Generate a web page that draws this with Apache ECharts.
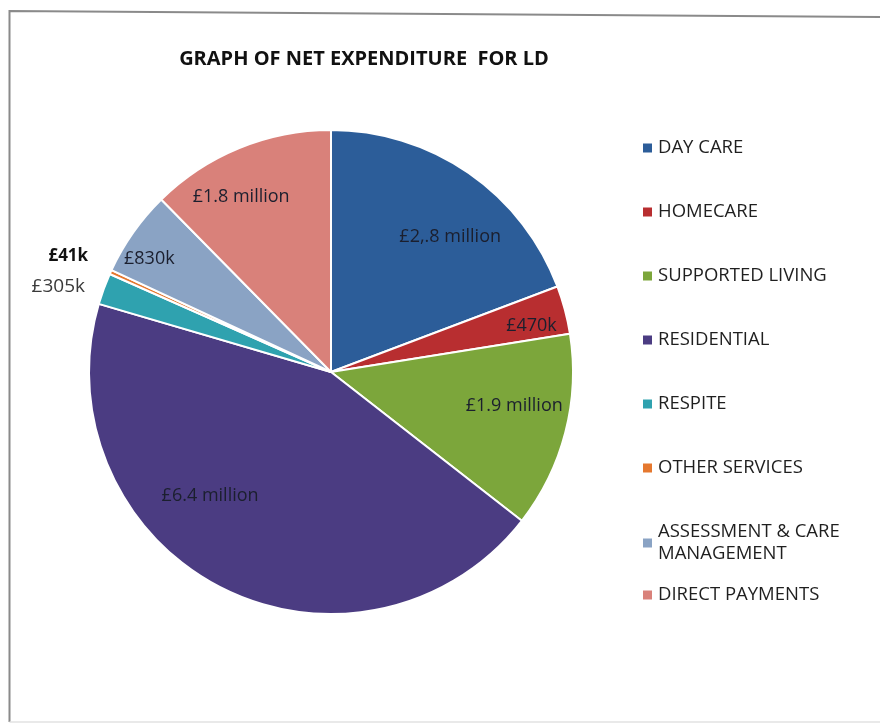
<!DOCTYPE html>
<html>
<head>
<meta charset="utf-8">
<script src="https://cdn.jsdelivr.net/npm/echarts@6/dist/echarts.min.js"></script>
<style>
  html, body { margin: 0; padding: 0; background: #ffffff; }
  #chart { width: 880px; height: 726px; }
</style>
</head>
<body>
<div id="chart"></div>
<script>
// ---- data ----
const categories = ['DAY CARE', 'HOMECARE', 'SUPPORTED LIVING', 'RESIDENTIAL', 'RESPITE', 'OTHER SERVICES', 'ASSESSMENT & CARE MANAGEMENT', 'DIRECT PAYMENTS'];
const values = [2800, 470, 1900, 6400, 305, 41, 830, 1800]; // £ thousands
const valueLabels = ['£2,.8 million', '£470k', '£1.9 million', '£6.4 million', '£305k', '£41k', '£830k', '£1.8 million'];
const titleText = 'GRAPH OF NET EXPENDITURE  FOR LD';

// ---- styling ----
const colors = ['#2c5d99', '#b82e30', '#7ca63b', '#4b3c82', '#2fa2af', '#e5782f', '#8aa3c4', '#d9817a'];
const labelRadialFactor = [0.744, 0.85, 0.77, 0.716, 1.076, 1.112, 0.884, 0.813];
const labelAngleOffset = [6.8, 2.0, -4, 17.1, -1.0, 1.1, -3.3, -4.9];
const outsideIdx = [4, 5];
const CX = 331, CY = 372, R = 242;

const chart = echarts.init(document.getElementById('chart'));

const total = values.reduce((a, b) => a + b, 0);
const midAngles = [];
let acc = 0;
values.forEach(v => { midAngles.push((acc + v / 2) / total * 360); acc += v; });

const pieData = categories.map((name, i) => ({
  name: name,
  value: values[i],
  itemStyle: { color: colors[i] }
}));

const legendText = {
  'ASSESSMENT & CARE MANAGEMENT': 'ASSESSMENT & CARE\nMANAGEMENT'
};

const legendCommon = {
  orient: 'vertical',
  left: 636,
  icon: 'rect',
  itemWidth: 11,
  itemHeight: 11,
  itemGap: 42,
  textStyle: { fontFamily: 'Open Sans', fontSize: 18.5, color: '#1f1f1f', lineHeight: 22 },
  formatter: n => legendText[n] || n,
  selectedMode: false
};

chart.setOption({
  backgroundColor: '#ffffff',
  animation: false,
  title: {
    text: titleText,
    left: 359,
    top: 44,
    textAlign: 'center',
    textStyle: { fontFamily: 'Open Sans', fontWeight: 'bold', fontSize: 20, color: '#111111' }
  },
  legend: [
    Object.assign({ top: 132, data: categories.slice(0, 7) }, legendCommon),
    Object.assign({ top: 579, data: categories.slice(7) }, legendCommon)
  ],
  graphic: [
    {
      type: 'polyline',
      shape: { points: [[9.5, 722], [9.5, 11], [880, 17]] },
      style: { stroke: '#8a8a8a', lineWidth: 2, fill: null },
      silent: true
    },
    {
      type: 'line',
      shape: { x1: 9.5, y1: 722, x2: 880, y2: 722 },
      style: { stroke: '#e2e2e2', lineWidth: 1.5 },
      silent: true
    }
  ],
  series: [{
    type: 'pie',
    center: [CX, CY],
    radius: R,
    startAngle: 90,
    clockwise: true,
    avoidLabelOverlap: false,
    itemStyle: { borderColor: '#ffffff', borderWidth: 2 },
    label: {
      show: true,
      position: 'inside',
      formatter: p => valueLabels[p.dataIndex],
      fontFamily: 'Open Sans',
      fontSize: 18,
      color: '#1b1f2e'
    },
    labelLine: { show: false },
    labelLayout: function (p) {
      const i = p.dataIndex;
      const a = (midAngles[i] + labelAngleOffset[i]) * Math.PI / 180;
      const d = labelRadialFactor[i] * R;
      const res = { x: CX + d * Math.sin(a), y: CY - d * Math.cos(a) };
      if (outsideIdx.indexOf(i) >= 0) {
        res.align = 'right';
        res.verticalAlign = 'middle';
      } else {
        res.align = 'center';
        res.verticalAlign = 'middle';
      }
      return res;
    },
    emphasis: { disabled: true },
    data: pieData.map((d, i) => outsideIdx.indexOf(i) >= 0
      ? Object.assign({}, d, { label: { color: i === 5 ? '#111111' : '#3a3a3a', fontWeight: i === 5 ? 'bold' : 'normal', fontSize: i === 5 ? 17 : 19 } })
      : d)
  }]
});
</script>
</body>
</html>
